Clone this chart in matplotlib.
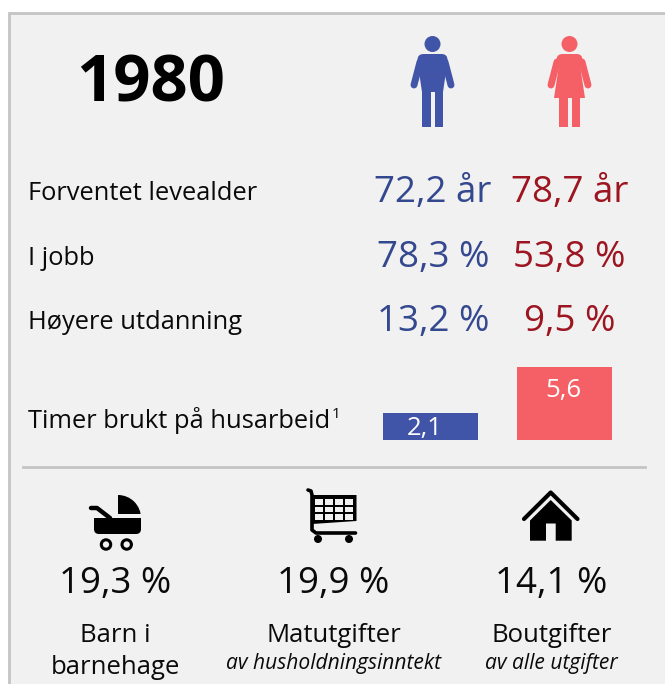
import matplotlib
matplotlib.use('Agg')
import matplotlib.pyplot as plt
from matplotlib.patches import Rectangle, Circle, Polygon, FancyBboxPatch, Wedge

W, H = 665, 684

year = '1980'
row_labels = ['Forventet levealder', 'I jobb', 'Høyere utdanning']
men_values = ['72,2 år', '78,3 %', '13,2 %']
women_values = ['78,7 år', '53,8 %', '9,5 %']
chore_label = 'Timer brukt på husarbeid'
chore_groups = ['Menn', 'Kvinner']
chore_hours = [2.1, 5.6]
chore_text = ['2,1', '5,6']
bottom_values = ['19,3 %', '19,9 %', '14,1 %']
bottom_labels = ['Barn i\nbarnehage', 'Matutgifter', 'Boutgifter']
bottom_notes = ['', 'av husholdningsinntekt', 'av alle utgifter']

BLUE = '#4055a8'
RED = '#f55f66'
DARK_BLUE = '#34488f'
DARK_RED = '#9c1520'
BG = '#f1f1f1'
LINE = '#c4c4c4'

plt.rcParams['font.family'] = ['Open Sans', 'DejaVu Sans']

fig = plt.figure(figsize=(W / 100, H / 100), dpi=100, facecolor='white')
ax = fig.add_axes([0, 0, 1, 1])
ax.set_xlim(0, W)
ax.set_ylim(H, 0)
ax.axis('off')

# panel
ax.add_patch(Rectangle((9, 13), W, H, facecolor=BG, edgecolor=LINE, linewidth=2))
ax.plot([23, 645], [467, 467], color=LINE, lw=2)

ax.text(151, 85, year, fontsize=47, fontweight='bold', ha='center', va='center')


def draw_arms(cx, color):
    for s in (-1, 1):
        ax.plot([cx + s * 12.5, cx + s * 18.5], [62, 85], color=color, lw=5, solid_capstyle='round')


def draw_man(cx, color):
    ax.add_patch(Circle((cx, 44), 8, color=color, lw=0))
    ax.add_patch(FancyBboxPatch((cx - 15, 54), 30, 14, boxstyle='round,pad=0,rounding_size=6', color=color, lw=0))
    ax.add_patch(Polygon([(cx - 15, 62), (cx + 15, 62), (cx + 10.5, 92), (cx - 10.5, 92)], color=color, lw=0))
    ax.add_patch(Rectangle((cx - 10.5, 90), 8.5, 37, color=color, lw=0))
    ax.add_patch(Rectangle((cx + 2, 90), 8.5, 37, color=color, lw=0))
    draw_arms(cx, color)


def draw_woman(cx, color):
    ax.add_patch(Circle((cx, 44), 8, color=color, lw=0))
    ax.add_patch(FancyBboxPatch((cx - 13, 54), 26, 14, boxstyle='round,pad=0,rounding_size=6', color=color, lw=0))
    ax.add_patch(Polygon([(cx - 10, 62), (cx + 10, 62), (cx + 15.5, 98), (cx - 15.5, 98)], color=color, lw=0))
    ax.add_patch(Rectangle((cx - 10.5, 97), 8.5, 30, color=color, lw=0))
    ax.add_patch(Rectangle((cx + 2, 97), 8.5, 30, color=color, lw=0))
    draw_arms(cx, color)


draw_man(432.5, BLUE)
draw_woman(569.5, RED)

# rows
row_y = [194, 258.5, 322.5]
for y, lab, m, f in zip(row_y, row_labels, men_values, women_values):
    ax.text(28, y, lab, fontsize=18.4, va='center', color='#0a0a0a')
    ax.text(433, y - 1, m, fontsize=26.5, va='center', ha='center', color=DARK_BLUE)
    ax.text(569.5, y - 1, f, fontsize=26.5, va='center', ha='center', color=DARK_RED)

ax.text(28, 420, chore_label, fontsize=18.4, va='center', color='#0a0a0a')
ax.text(332, 414, '1', fontsize=11, va='center', color='#0a0a0a')

# hours bars, baseline at y=440, 13 px per hour
bar_ax = fig.add_axes([363 / W, (H - 440) / H, 269 / W, 78 / H])
bar_ax.bar(chore_groups, chore_hours, width=0.709, color=[BLUE, RED])
bar_ax.set_xlim(-0.5, 1.5)
bar_ax.set_ylim(0, 6)
bar_ax.axis('off')
bar_ax.text(-0.04, 0.92, chore_text[0], fontsize=18.5, color='white', ha='center', va='center')
bar_ax.text(0.99, 3.78, chore_text[1], fontsize=18.5, color='white', ha='center', va='center')

# pram
ax.add_patch(Wedge((118, 518), 23, 270, 360, color='black', lw=0))
ax.add_patch(Rectangle((116, 514), 27, 5, color=BG, lw=0))
ax.add_patch(Rectangle((94, 517.7), 47, 8, color='black', lw=0))
ax.add_patch(FancyBboxPatch((94, 518), 47, 16, boxstyle='round,pad=0,rounding_size=5', color='black', lw=0))
ax.plot([91, 97, 110], [508, 508, 518], color='black', lw=3.2, solid_capstyle='round')
for cx in (106, 126.7):
    ax.add_patch(Circle((cx, 544.5), 4.7, facecolor=BG, edgecolor='black', lw=2.2))

# cart
ax.add_patch(Polygon([(312, 495), (356.5, 495), (356.5, 521), (312, 524)], facecolor='black', lw=0))
for x in (315, 325, 335, 345):
    for y in (499, 506.5, 514):
        ax.add_patch(Rectangle((x, y), 8, 5.5, facecolor=BG, lw=0))
ax.plot([308, 311, 312, 312, 316, 355.5], [490, 491, 495, 530, 533, 533], color='black', lw=2.6, solid_capstyle='round')
for cx in (318, 349):
    ax.add_patch(Circle((cx, 539), 4, color='black', lw=0))

# house
ax.plot([524, 550.7, 577.5], [519, 492.5, 519], color='black', lw=3, solid_capstyle='round')
ax.add_patch(Polygon([(530, 520.5), (550.7, 500), (571.7, 520.5), (571.7, 540.7), (555.7, 540.7), (555.7, 523.5),
                      (546, 523.5), (546, 540.7), (530, 540.7)], color='black', lw=0))

# bottom columns
col_x = [115.5, 333.5, 551.5]
for x, v, lab, note in zip(col_x, bottom_values, bottom_labels, bottom_notes):
    ax.text(x, 584, v, fontsize=26.4, ha='center', va='center', color='#0a0a0a')
    if '\n' in lab:
        a, b = lab.split('\n')
        ax.text(x, 635, a, fontsize=18.5, ha='center', va='center', color='#0a0a0a')
        ax.text(x, 667, b, fontsize=18.5, ha='center', va='center', color='#0a0a0a')
    else:
        ax.text(x, 635, lab, fontsize=18.5, ha='center', va='center', color='#0a0a0a')
        ax.text(x, 664, note, fontsize=15.1, style='italic', ha='center', va='center', color='#0a0a0a')

fig.savefig('out.png', dpi=100, facecolor='white')
